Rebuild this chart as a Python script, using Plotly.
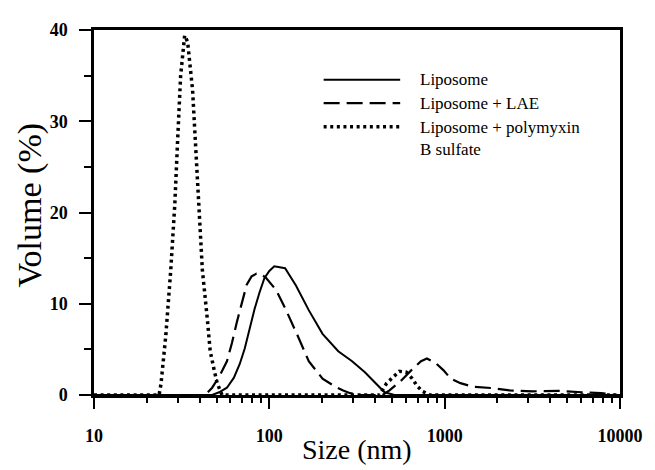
import plotly.graph_objects as go

# Liposome (solid)
lipo_size = [10, 47.2, 51.7, 57.3, 62.8, 67.8, 72.4, 77.2, 82.3, 87.8, 93.7, 100, 106.7,
             123, 141.8, 167.8, 201.1, 247.2, 296.5, 350.8, 415, 454, 517, 10000]
lipo_vol = [0, 0, 0.3, 0.8, 1.9, 3.4, 5.1, 7.3, 9.4, 11.2, 12.8, 13.6, 14.1,
            13.9, 12.0, 9.3, 6.7, 4.8, 3.7, 2.5, 1.1, 0.3, 0, 0]

# Liposome + LAE (dashed)
lae_size = [10, 43.1, 47.2, 51.7, 57.3, 61.2, 65.3, 69.6, 74.3, 79.2, 84.5, 90.2, 96.2,
            109.4, 124.6, 147.4, 167.8, 201.1, 237.9, 263.8, 288.9, 328.8, 442.6, 484.3,
            566, 644, 733, 792, 889, 986, 1081, 1230, 1456, 1885, 2345, 3160, 4470,
            6030, 7810, 9510, 10000]
lae_vol = [0, 0, 0.8, 2.0, 3.7, 5.7, 8.0, 10.2, 12.1, 13.0, 13.3, 13.2, 12.8,
           11.5, 9.3, 6.2, 3.7, 1.8, 0.9, 0.5, 0.2, 0, 0, 0.5,
           1.6, 2.7, 3.7, 4.0, 3.5, 2.7, 1.8, 1.3, 0.9, 0.75, 0.5, 0.4, 0.45,
           0.3, 0.2, 0, 0]

# Liposome + polymyxin B sulfate (dotted)
poly_size = [10, 23.5, 24.1, 25.7, 27.4, 28.9, 30.0, 31.2, 32.9, 34.2, 36.5, 37.9, 39.9,
             41.5, 44.3, 46.0, 48.5, 50.4, 53.7, 426, 467, 504, 552, 604, 653, 696,
             747, 824, 10000]
poly_vol = [0, 0, 1.2, 6.6, 13.7, 20.9, 28, 35, 39.4, 38.7, 33.4, 28, 20.9,
            13.7, 8.3, 4.8, 2.7, 1.3, 0, 0, 1.3, 1.9, 2.6, 2.5, 1.8, 1.0,
            0.4, 0, 0]

legend_labels = ["Liposome", "Liposome + LAE", "Liposome + polymyxin<br>B sulfate"]

x_major_ticks = [10, 100, 1000, 10000]
x_minor_ticks = [m * d for d in (10, 100, 1000) for m in range(2, 10)]

x_title = "Size (nm)"
y_title = "Volume (%)"

SERIF = "Liberation Serif, Times New Roman, serif"

fig = go.Figure()
fig.add_trace(go.Scatter(x=lipo_size, y=lipo_vol, mode="lines",
                         line=dict(color="black", width=2), name=legend_labels[0],
                         showlegend=False))
fig.add_trace(go.Scatter(x=lae_size, y=lae_vol, mode="lines",
                         line=dict(color="black", width=2.2, dash="16px,7px"),
                         name=legend_labels[1], showlegend=False))
fig.add_trace(go.Scatter(x=poly_size, y=poly_vol, mode="lines",
                         line=dict(color="black", width=3.5, dash="3px,3.6px"),
                         name=legend_labels[2], showlegend=False))

# manual legend (line samples + text)
leg_rows_y = [0.8636, 0.7995, 0.735]
leg_styles = [dict(color="black", width=2),
              dict(color="black", width=2.2, dash="16px,7px"),
              dict(color="black", width=3.5, dash="3px,3.6px")]
x0, x1, xt = (328 - 94) / 536, (406 - 94) / 536, (424 - 94) / 536
for yy, st, lab in zip(leg_rows_y, leg_styles, legend_labels):
    fig.add_shape(type="line", xref="paper", yref="paper", x0=x0, x1=x1, y0=yy, y1=yy,
                  line=st)
    fig.add_annotation(xref="paper", yref="paper", x=xt, y=yy, text=lab, showarrow=False,
                       xanchor="left", yanchor="top" if "<br>" in lab else "middle",
                       yshift=11 if "<br>" in lab else 0,
                       align="left", font=dict(family=SERIF, size=17, color="black"))

# axis titles
fig.add_annotation(xref="paper", yref="paper", x=0.5, y=-0.15, text=x_title,
                   showarrow=False, xanchor="center", yanchor="middle",
                   font=dict(family=SERIF, size=28, color="black"))
fig.add_annotation(xref="paper", yref="paper", x=-0.121, y=0.52, text=y_title,
                   showarrow=False, xanchor="center", yanchor="middle", textangle=-90,
                   font=dict(family=SERIF, size=34, color="black"))

axis_common = dict(showline=True, linecolor="black", linewidth=2.5, mirror=True,
                   showgrid=False, zeroline=False, ticks="outside", tickcolor="black",
                   tickwidth=2, tickfont=dict(family=SERIF, size=18, color="black",
                                              weight="bold"))

fig.update_xaxes(type="log", range=[1, 4], tickmode="array", tickvals=x_major_ticks,
                 ticktext=[str(v) for v in x_major_ticks], ticklen=11,
                 ticklabelstandoff=12,
                 minor=dict(ticks="outside", ticklen=5, tickwidth=1.5, tickcolor="black",
                            tickmode="array", tickvals=x_minor_ticks),
                 **axis_common)
fig.update_yaxes(range=[0, 40], dtick=10, ticklen=12, ticklabelstandoff=8,
                 minor=dict(ticks="outside", ticklen=7, tickwidth=2, tickcolor="black",
                            dtick=5),
                 **axis_common)

fig.update_layout(width=647, height=462, margin=dict(l=86, r=25, t=13, b=75),
                  plot_bgcolor="white", paper_bgcolor="white", showlegend=False)

fig.write_html("out.html")
